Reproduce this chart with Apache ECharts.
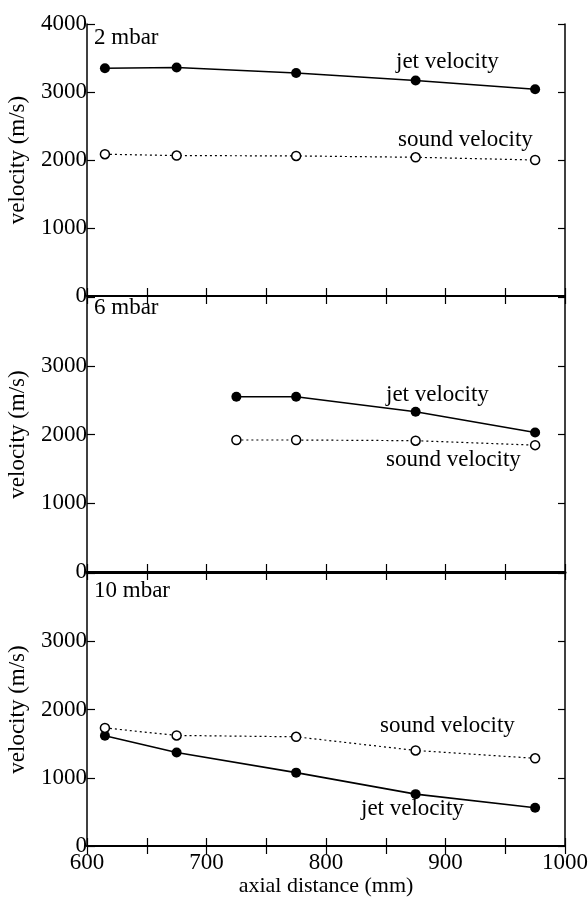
<!DOCTYPE html>
<html>
<head>
<meta charset="utf-8">
<script src="https://cdn.jsdelivr.net/npm/echarts@6/dist/echarts.min.js"></script>
<style>
  html, body { margin: 0; padding: 0; background: #fff; }
  #chart { width: 588px; height: 897px; }
</style>
</head>
<body>
<div id="chart"></div>
<script>
// Axial distance (mm) of the measuring stations for each chamber pressure
const distance2 = [615, 675, 775, 875, 975];
const distance6 = [725, 775, 875, 975];
const distance10 = [615, 675, 775, 875, 975];

// Velocities (m/s)
const jet2 = [3350, 3360, 3280, 3170, 3040];
const sound2 = [2085, 2065, 2060, 2040, 2000];
const jet6 = [2550, 2550, 2330, 2030];
const sound6 = [1920, 1920, 1910, 1845];
const jet10 = [1615, 1370, 1075, 760, 560];
const sound10 = [1730, 1620, 1600, 1400, 1285];

// Panel titles
const panelTitles = ['2 mbar', '6 mbar', '10 mbar'];
const xLabelTicks = [600, 700, 800, 900, 1000];

const FONT = "'Liberation Serif', 'Times New Roman', serif";
const FS = 23;
const BLACK = '#000';

const grids = [
  { left: 87, width: 478, top: 24, height: 272, outerBoundsMode: 'none', containLabel: false },
  { left: 87, width: 478, top: 297, height: 275, outerBoundsMode: 'none', containLabel: false },
  { left: 87, width: 478, top: 573, height: 273, outerBoundsMode: 'none', containLabel: false }
];

function pairs(xs, ys) { return xs.map((x, i) => [x, ys[i]]); }

const xAxes = [];
const yAxes = [];
grids.forEach((g, i) => {
  const isBottomPanel = i === 2;
  const bottomWidth = i === 1 ? 3 : (i === 0 ? 2 : 1.5);
  const topWidth = i === 0 ? 1.5 : 2;
  // bottom x axis
  xAxes.push({
    type: 'value', gridIndex: i, position: 'bottom', min: 600, max: 1000, interval: 50,
    axisLine: { show: true, lineStyle: { color: BLACK, width: bottomWidth } },
    axisTick: { show: true, inside: true, length: 8, lineStyle: { color: BLACK, width: 1.2 } },
    splitLine: { show: false },
    axisLabel: {
      show: isBottomPanel, margin: 5, color: BLACK, fontFamily: FONT, fontSize: FS,
      formatter: v => (xLabelTicks.indexOf(v) >= 0 ? String(v) : '')
    },
    name: isBottomPanel ? 'axial distance (mm)' : '',
    nameLocation: 'middle', nameGap: 27,
    nameTextStyle: { color: BLACK, fontFamily: FONT, fontSize: FS - 1 }
  });
  // top x axis (box edge with inward ticks)
  xAxes.push({
    type: 'value', gridIndex: i, position: 'top', min: 600, max: 1000, interval: 50,
    axisLine: { show: true, lineStyle: { color: BLACK, width: topWidth } },
    axisTick: { show: true, inside: true, length: 8, lineStyle: { color: BLACK, width: 1.2 } },
    splitLine: { show: false },
    axisLabel: { show: false }
  });
  // left y axis
  yAxes.push({
    type: 'value', gridIndex: i, position: 'left', min: 0, max: 4000, interval: 1000,
    axisLine: { show: true, lineStyle: { color: BLACK, width: 1.5 } },
    axisTick: { show: true, inside: true, length: 8, lineStyle: { color: BLACK, width: 1.2 } },
    splitLine: { show: false },
    axisLabel: {
      show: true, margin: 0, color: BLACK, fontFamily: FONT, fontSize: FS,
      padding: [0, 0, 8, 0],
      formatter: v => (i > 0 && v === 4000 ? '' : String(v))
    },
    name: 'velocity (m/s)', nameLocation: 'middle', nameGap: 58, nameRotate: 90,
    nameTextStyle: { color: BLACK, fontFamily: FONT, fontSize: FS }
  });
  // right y axis
  yAxes.push({
    type: 'value', gridIndex: i, position: 'right', min: 0, max: 4000, interval: 1000,
    axisLine: { show: true, lineStyle: { color: BLACK, width: 1.5 } },
    axisTick: { show: true, inside: true, length: 7, lineStyle: { color: BLACK, width: 1.2 } },
    splitLine: { show: false },
    axisLabel: { show: false }
  });
});

function jetSeries(idx, data) {
  return {
    type: 'line', xAxisIndex: idx * 2, yAxisIndex: idx * 2, data: data,
    symbol: 'circle', symbolSize: 10, showAllSymbol: true,
    lineStyle: { color: BLACK, width: 1.6, type: 'solid' },
    itemStyle: { color: BLACK, borderColor: BLACK, borderWidth: 0 },
    animation: false, z: 3
  };
}
function soundSeries(idx, data) {
  return {
    type: 'line', xAxisIndex: idx * 2, yAxisIndex: idx * 2, data: data,
    symbol: 'circle', symbolSize: 9, showAllSymbol: true,
    lineStyle: { color: BLACK, width: 1.2, type: [2, 3] },
    itemStyle: { color: '#fff', borderColor: BLACK, borderWidth: 1.5 },
    animation: false, z: 3
  };
}

function label(text, x, y) {
  return {
    type: 'text', x: x, y: y, z: 10,
    style: { text: text, fill: BLACK, font: FS + 'px ' + FONT, textVerticalAlign: 'middle', textAlign: 'left' }
  };
}

const option = {
  backgroundColor: '#fff',
  animation: false,
  grid: grids,
  xAxis: xAxes,
  yAxis: yAxes,
  series: [
    jetSeries(0, pairs(distance2, jet2)),
    soundSeries(0, pairs(distance2, sound2)),
    jetSeries(1, pairs(distance6, jet6)),
    soundSeries(1, pairs(distance6, sound6)),
    jetSeries(2, pairs(distance10, jet10)),
    soundSeries(2, pairs(distance10, sound10))
  ],
  graphic: [
    label(panelTitles[0], 94, 38),
    label('jet velocity', 396, 62),
    label('sound velocity', 398, 140),
    label(panelTitles[1], 94, 308),
    label('jet velocity', 386, 395),
    label('sound velocity', 386, 460),
    label(panelTitles[2], 94, 591),
    label('sound velocity', 380, 726),
    label('jet velocity', 361, 809)
  ]
};

const chart = echarts.init(document.getElementById('chart'), null, { renderer: 'canvas' });
chart.setOption(option);
</script>
</body>
</html>
